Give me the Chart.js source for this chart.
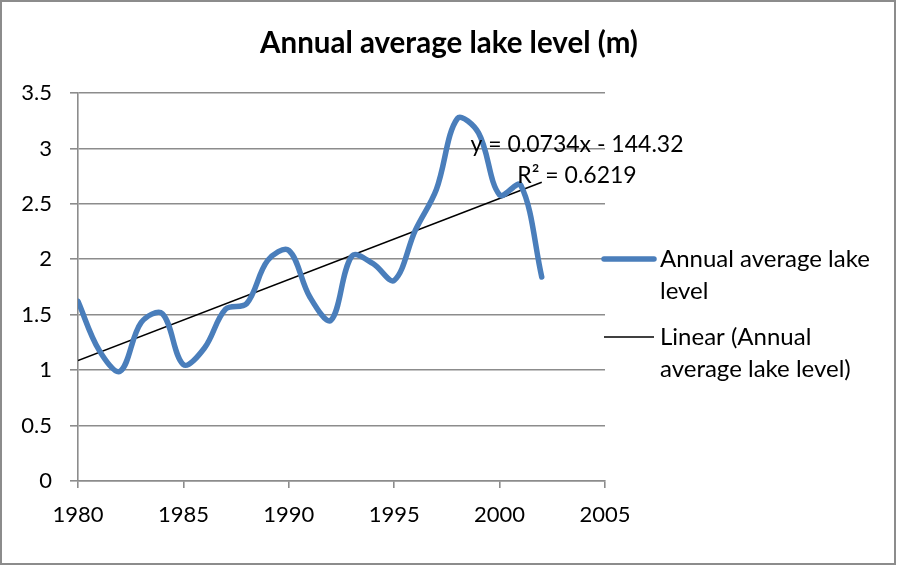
<!DOCTYPE html>
<html>
<head>
<meta charset="utf-8">
<script src="https://cdn.jsdelivr.net/npm/chart.js@4/dist/chart.umd.min.js"></script>
<style>
  html, body { margin: 0; padding: 0; background: #fff; }
  #wrap { width: 898px; height: 566px; position: relative; }
</style>
</head>
<body>
<div id="wrap"><canvas id="c" width="898" height="566"></canvas></div>
<script>
// ---- data ----
const years = [1980,1981,1982,1983,1984,1985,1986,1987,1988,1989,1990,1991,1992,1993,1994,1995,1996,1997,1998,1999,2000,2001,2002];
const levels = [1.62,1.18,0.99,1.43,1.51,1.05,1.20,1.55,1.60,1.99,2.08,1.66,1.45,2.03,1.96,1.81,2.26,2.63,3.27,3.14,2.58,2.67,1.84];
const xTickLabels = [1980,1985,1990,1995,2000,2005];
const yTickLabels = [0,0.5,1,1.5,2,2.5,3,3.5];
const chartTitle = 'Annual average lake level (m)';
const seriesName = 'Annual average lake level';
const trendName = 'Linear (Annual average lake level)';
const trendEquation = 'y = 0.0734x - 144.32';
const trendR2 = 'R² = 0.6219';

// least-squares trendline from the data
const n = years.length;
const mx = years.reduce((a,b)=>a+b,0)/n;
const my = levels.reduce((a,b)=>a+b,0)/n;
let sxy = 0, sxx = 0;
for (let i=0;i<n;i++){ sxy += (years[i]-mx)*(levels[i]-my); sxx += (years[i]-mx)**2; }
const slope = sxy/sxx, intercept = my - slope*mx;
const trendPts = [years[0], years[n-1]].map(x => ({x, y: slope*x + intercept}));

const GRID = '#8c8c8c';
Chart.defaults.font.family = 'Lato';
Chart.defaults.font.size = 22;
Chart.defaults.color = '#000';

const decor = {
  id: 'decor',
  afterDraw(chart) {
    const ctx = chart.ctx;
    ctx.save();
    // outer border
    ctx.strokeStyle = GRID; ctx.lineWidth = 2;
    ctx.strokeRect(1, 1, 894, 563);
    // title
    ctx.fillStyle = '#000';
    ctx.font = 'bold 29.5px Lato';
    ctx.textAlign = 'center'; ctx.textBaseline = 'alphabetic';
    ctx.fillText(chartTitle, 449, 53);
    // trend equation
    ctx.font = '23px Lato';
    ctx.fillText(trendEquation, 577, 152);
    ctx.fillText(trendR2, 577, 183);
    // legend
    ctx.font = '24px Lato';
    const ds = chart.data.datasets;
    ctx.textAlign = 'left';
    const items = [
      {d: ds[0], y: 259, lines: ['Annual average lake', 'level']},
      {d: ds[1], y: 337, lines: ['Linear (Annual', 'average lake level)']}
    ];
    items.forEach(it => {
      ctx.strokeStyle = it.d.borderColor; ctx.lineWidth = it.d.borderWidth;
      ctx.lineCap = it.d.borderCapStyle || 'butt';
      ctx.beginPath(); ctx.moveTo(604, it.y); ctx.lineTo(654, it.y); ctx.stroke();
      it.lines.forEach((t, k) => ctx.fillText(t, 660, it.y + 8 + k*31.5));
    });
    ctx.restore();
  }
};

new Chart(document.getElementById('c'), {
  type: 'line',
  data: {
    datasets: [
      { label: seriesName, data: years.map((x,i)=>({x, y: levels[i]})),
        borderColor: '#4a7ebb', borderWidth: 5.5, borderCapStyle: 'round', borderJoinStyle: 'round',
        pointRadius: 0, tension: 0.35, fill: false },
      { label: trendName, data: trendPts, borderColor: '#000', borderWidth: 1.5,
        pointRadius: 0, tension: 0, fill: false }
    ]
  },
  options: {
    responsive: false, animation: false,
    layout: { padding: { left: 0, top: 93, right: 293, bottom: 0 } },
    plugins: { legend: { display: false }, title: { display: false }, tooltip: { enabled: false } },
    scales: {
      x: {
        type: 'linear', min: 1980, max: 2005,
        afterBuildTicks: s => { s.ticks = xTickLabels.map(v => ({value: v})); },
        afterFit: s => { s.height = 85; },
        ticks: { padding: 14, callback: v => String(v), maxRotation: 0, autoSkip: false },
        grid: { drawOnChartArea: false, drawTicks: true, tickLength: 7, color: GRID, lineWidth: 1.6 },
        border: { color: GRID, width: 1.6 }
      },
      y: {
        min: 0, max: 3.5,
        afterBuildTicks: s => { s.ticks = yTickLabels.map(v => ({value: v})); },
        afterFit: s => { s.width = 78; },
        ticks: { padding: 18, callback: v => String(v) },
        grid: { drawOnChartArea: true, drawTicks: true, tickLength: 8, color: GRID, lineWidth: 1.6 },
        border: { color: GRID, width: 1.6 }
      }
    }
  },
  plugins: [decor]
});
</script>
</body>
</html>
